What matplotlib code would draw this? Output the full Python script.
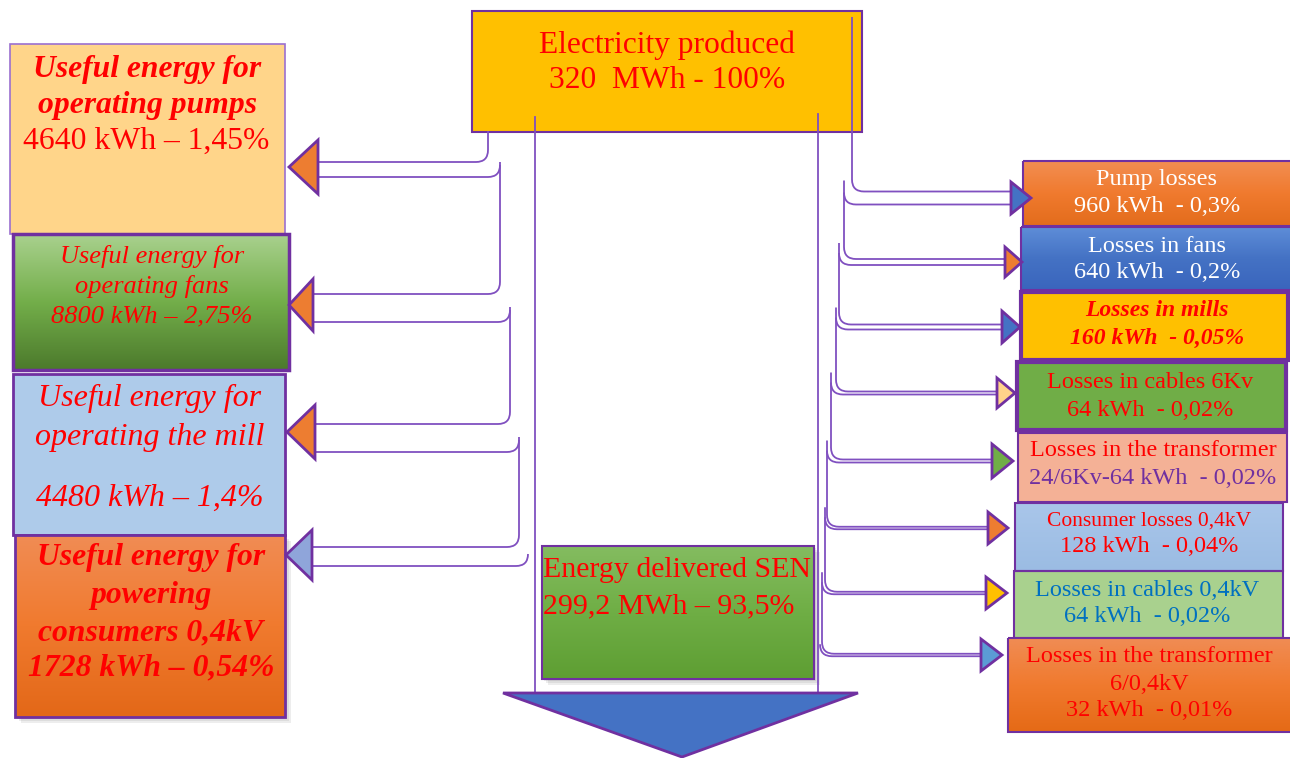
import numpy as np
import matplotlib
matplotlib.use('Agg')
import matplotlib.pyplot as plt
from matplotlib.patches import Rectangle, Polygon, PathPatch
from matplotlib.path import Path
from matplotlib.colors import LinearSegmentedColormap

plt.rcParams['font.family'] = ['Liberation Serif', 'DejaVu Serif']

# ---- values -------------------------------------------------------------
produced_mwh = '320'
produced_pct = '100%'
delivered_mwh = '299,2'
delivered_pct = '93,5%'

left_names = ['operating pumps', 'operating fans', 'operating the mill',
              'powering\nconsumers 0,4kV']
left_kwh = [4640, 8800, 4480, 1728]
left_pct = ['1,45%', '2,75%', '1,4%', '0,54%']

right_names = ['Pump losses', 'Losses in fans', 'Losses in mills',
               'Losses in cables 6Kv', 'Losses in the transformer',
               'Consumer losses 0,4kV', 'Losses in cables 0,4kV',
               'Losses in the transformer\n6/0,4kV']
right_kwh = [960, 640, 160, 64, 64, 128, 64, 32]
right_pct = ['0,3%', '0,2%', '0,05%', '0,02%', '0,02%', '0,04%', '0,02%', '0,01%']

# ---- layout (pixels, origin top-left) -------------------------------------
PURPLE = '#7030A0'
LINE = '#8050C0'
RED = '#FF0000'

fig = plt.figure(figsize=(12.9, 7.58), dpi=100)
ax = fig.add_axes([0, 0, 1, 1])
ax.set_xlim(0, 1290)
ax.set_ylim(758, 0)
ax.set_autoscale_on(False)
ax.axis('off')


def box(x0, y0, x1, y1, fc, ec=PURPLE, lw=1.5, grad=None, shadow=False, z=2):
    if shadow:
        for k, a in enumerate([0.10, 0.10, 0.12]):
            d = 6 - 2 * k
            ax.add_patch(Rectangle((x0 + d, y0 + d), x1 - x0, y1 - y0,
                                   fc='#555555', ec='none', alpha=a, zorder=z - 0.5))
    if grad:
        cmap = LinearSegmentedColormap.from_list('g', grad)
        ax.imshow(np.linspace(0, 1, 200).reshape(-1, 1), cmap=cmap,
                  extent=(x0, x1, y1, y0), origin='upper', aspect='auto', zorder=z)
        ax.add_patch(Rectangle((x0, y0), x1 - x0, y1 - y0, fc='none', ec=ec,
                               lw=lw, zorder=z + 0.1))
    else:
        ax.add_patch(Rectangle((x0, y0), x1 - x0, y1 - y0, fc=fc, ec=ec,
                               lw=lw, zorder=z))


def txt(x, y, s, size, color=RED, style='normal', weight='normal', ha='center'):
    # small downward nudge: va='center' sits a bit high for serif text
    ax.text(x, y + 3, s, fontsize=size, color=color, style=style, weight=weight,
            ha=ha, va='center', zorder=10)


def path(pts, codes):
    ax.add_patch(PathPatch(Path(pts, codes), fc='none', ec=LINE, lw=1.3, zorder=3))


M, L, C = Path.MOVETO, Path.LINETO, Path.CURVE3
R = 12

# top box
box(472, 11, 862, 132, '#FFC000')
txt(667, 42, 'Electricity produced', 22.7)
txt(667, 77, f'{produced_mwh}  MWh - {produced_pct}', 22.7)

# central channel and bottom arrow
ax.plot([535, 535], [117, 693], color=LINE, lw=1.3, zorder=3)
ax.plot([818, 818], [114, 693], color=LINE, lw=1.3, zorder=3)
ax.add_patch(Polygon([(503, 693), (858, 693), (682, 757)], closed=True,
                     fc='#4472C4', ec=PURPLE, lw=2, zorder=4))

box(542, 546, 814, 679, None, grad=['#84BC60', '#6FAE45', '#5E9E33'], shadow=True)
txt(543, 567, 'Energy delivered SEN', 21.5, ha='left')
txt(543, 603, f'{delivered_mwh} MWh \u2013 {delivered_pct}', 21.5, ha='left')

# ---- left side ----------------------------------------------------------
lbox = [(10, 44, 285, 234), (13, 234, 289, 370), (13, 374, 285, 535), (15, 535, 285, 717)]
box(*lbox[0], '#FFD58A', ec='#9B70D0', lw=1.2)
box(*lbox[1], None, grad=['#A9D18E', '#73AE4A', '#4C7A2C'], lw=2.5)
box(*lbox[2], '#AECBEA', lw=2)
box(*lbox[3], None, grad=['#F18C54', '#F07A2E', '#E36818'], lw=2, shadow=True)

txt(147, 66, 'Useful energy for', 22.8, style='italic', weight='bold')
txt(147, 102, left_names[0], 22.8, style='italic', weight='bold')
txt(146, 138, f'{left_kwh[0]} kWh \u2013 {left_pct[0]}', 22.8)

txt(152, 253, 'Useful energy for', 19, style='italic')
txt(152, 283, left_names[1], 19, style='italic')
txt(152, 313, f'{left_kwh[1]} kWh \u2013 {left_pct[1]}', 19, style='italic')

txt(150, 395, 'Useful energy for', 23, style='italic')
txt(150, 435, left_names[2], 23, style='italic')
txt(150, 495, f'{left_kwh[2]} kWh \u2013 {left_pct[2]}', 23, style='italic')

cons = ['Useful energy for'] + left_names[3].split('\n') + [f'{left_kwh[3]} kWh \u2013 {left_pct[3]}']
for yy, s in zip([555, 593, 630, 665], cons):
    txt(151, yy, s, 22.8, style='italic', weight='bold')

# left arrows and connectors
la_tip = [289, 289, 287, 286]
la_base = [318, 313, 315, 312]
la_y = [167, 305, 432, 555]
la_h = [27, 26, 27, 25]
la_fc = ['#ED7D31', '#ED7D31', '#ED7D31', '#8FA5DA']
la_lines = [(162, 177), (294, 322), (424, 452), (547, 566)]
lvx = [488, 500, 510, 519, 528]

for i in range(4):
    yt, yb = la_lines[i]
    start = 131 if i == 0 else la_lines[i - 1][1] - 15
    x0 = la_base[i]
    path([(x0, yt), (lvx[i] - R, yt), (lvx[i], yt), (lvx[i], yt - R), (lvx[i], start)],
         [M, L, C, C, L])
    path([(x0, yb), (lvx[i + 1] - R, yb), (lvx[i + 1], yb), (lvx[i + 1], yb - R)],
         [M, L, C, C])
    ax.add_patch(Polygon([(la_base[i], la_y[i] - la_h[i]), (la_base[i], la_y[i] + la_h[i]),
                          (la_tip[i], la_y[i])], closed=True, fc=la_fc[i],
                         ec=PURPLE, lw=2, zorder=5))

# ---- right side ---------------------------------------------------------
rbox = [(1023, 161, 1292, 226), (1021, 227, 1292, 290), (1021, 292, 1288, 360),
        (1017, 362, 1286, 430), (1018, 433, 1287, 502), (1015, 503, 1283, 571),
        (1014, 571, 1283, 638), (1008, 638, 1292, 732)]
box(*rbox[0], None, grad=['#F28E52', '#F07A2E', '#E36C1C'], shadow=True)
box(*rbox[1], None, grad=['#5E8DD8', '#4472C4', '#3A65BD'], shadow=True)
box(*rbox[2], '#FFC000', lw=3)
box(*rbox[3], '#70AD47', lw=3)
box(*rbox[4], '#F4B196', lw=1.5)
box(*rbox[5], None, grad=['#A9C6EA', '#9BBCE3'], lw=1.5)
box(*rbox[6], '#A9D18E', lw=1.5)
box(*rbox[7], None, grad=['#F08C54', '#F07A2E', '#E56A16'], lw=1.5)

FS = 17.5
rx = 1157
txt(rx, 176, right_names[0], FS, color='white')
txt(rx, 203, f'{right_kwh[0]} kWh  - {right_pct[0]}', FS, color='white')
txt(rx, 243, right_names[1], FS, color='white')
txt(rx, 270, f'{right_kwh[1]} kWh  - {right_pct[1]}', FS, color='white')
txt(rx, 308, right_names[2], 17, style='italic', weight='bold')
txt(rx, 335, f'{right_kwh[2]} kWh  - {right_pct[2]}', 17, style='italic', weight='bold')
txt(1150, 380, right_names[3], FS)
txt(1150, 407, f'{right_kwh[3]} kWh  - {right_pct[3]}', FS)
txt(1153, 448, right_names[4], FS)
txt(1153, 475, f'24/6Kv-{right_kwh[4]} kWh  - {right_pct[4]}', FS, color=PURPLE)
txt(1149, 518, right_names[5], 15.5)
txt(1149, 544, f'{right_kwh[5]} kWh  - {right_pct[5]}', FS)
txt(1147, 587, right_names[6], FS, color='#0070C0')
txt(1147, 614, f'{right_kwh[6]} kWh  - {right_pct[6]}', FS, color='#0070C0')
t8 = right_names[7].split('\n')
txt(1149, 654, t8[0], FS)
txt(1149, 681, t8[1], FS)
txt(1149, 708, f'{right_kwh[7]} kWh  - {right_pct[7]}', FS)

ra_base = [1011, 1005, 1002, 997, 992, 988, 986, 981]
ra_tip = [1031, 1022, 1020, 1015, 1013, 1008, 1007, 1002]
ra_y = [198, 262, 327, 393, 461, 528, 593, 655]
ra_h = [16, 15, 16, 15, 17, 16, 16, 16]
ra_fc = ['#4472C4', '#ED7D31', '#4472C4', '#FFD38A', '#70AD47', '#ED7D31',
         '#FFC000', '#5B9BD5']
ra_gap = [9, 6, 5, 3, 3, 2.5, 2.5, 2.5]
rvx = [852, 844, 839, 836, 831, 827, 825, 822, 820]

for i in range(8):
    yt = ra_y[i] - ra_gap[i] / 2 - (2 if i == 0 else 0)
    yb = ra_y[i] + ra_gap[i] / 2 + (2 if i == 0 else 0)
    start = 17 if i == 0 else (ra_y[i - 1] + ra_gap[i - 1] / 2) - 22
    path([(rvx[i], start), (rvx[i], yt - R), (rvx[i], yt), (rvx[i] + R, yt), (ra_base[i], yt)],
         [M, L, C, C, L])
    path([(rvx[i + 1], yb - R), (rvx[i + 1], yb), (rvx[i + 1] + R, yb), (ra_base[i], yb)],
         [M, C, C, L])
    ax.add_patch(Polygon([(ra_base[i], ra_y[i] - ra_h[i]), (ra_base[i], ra_y[i] + ra_h[i]),
                          (ra_tip[i], ra_y[i])], closed=True, fc=ra_fc[i],
                         ec=PURPLE, lw=2, zorder=5))

fig.savefig('out.png', dpi=100)
plt.close(fig)
